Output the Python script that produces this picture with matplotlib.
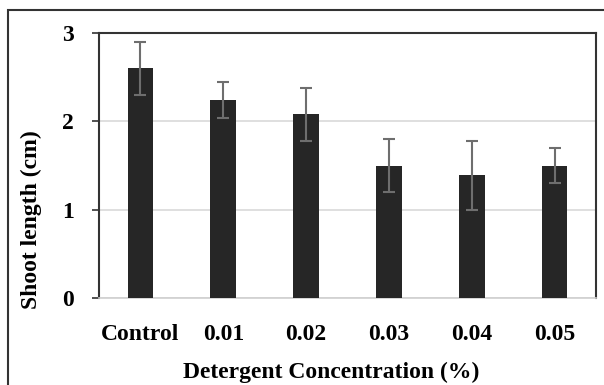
import matplotlib
matplotlib.use("Agg")
import matplotlib.pyplot as plt
from matplotlib.patches import Rectangle

categories = ["Control", "0.01", "0.02", "0.03", "0.04", "0.05"]
shoot_length = [2.60, 2.24, 2.08, 1.50, 1.39, 1.50]
errors = [0.30, 0.20, 0.30, 0.30, 0.39, 0.20]

plt.rcParams["font.family"] = "Liberation Serif"
plt.rcParams["font.weight"] = "bold"

fig = plt.figure(figsize=(6.04, 3.85), dpi=100)
# outer chart frame, cut off at right and bottom like the source image
fig.patches.append(Rectangle((8 / 604, -0.05), 1.0, 1 - 10 / 385 + 0.05,
                             transform=fig.transFigure, fill=False,
                             edgecolor="#333333", linewidth=1.5))

ax = fig.add_axes([99 / 604, 87 / 385, 497 / 604, 265 / 385])
x = range(len(categories))
ax.bar(x, shoot_length, width=0.31, color="#262626", zorder=3,
       yerr=errors, error_kw=dict(ecolor="#6e6e6e", elinewidth=1.5,
                                  capsize=4.5, capthick=1.5, zorder=4))

ax.set_xlim(-0.5, len(categories) - 0.5)
ax.set_ylim(0, 3)
ax.set_yticks([0, 1, 2, 3])
ax.set_xticks(list(x))
ax.set_xticklabels(categories)
ax.yaxis.grid(True, color="#d9d9d9", linewidth=1.2, zorder=0)
ax.tick_params(axis="x", length=0, pad=19, labelsize=17)
ax.tick_params(axis="y", length=5, width=1.2, direction="out", pad=13,
               labelsize=17, color="#333333")
for side in ["top", "right", "left"]:
    ax.spines[side].set_color("#333333")
    ax.spines[side].set_linewidth(1.5)
ax.spines["bottom"].set_color("#d0d0d0")
ax.spines["bottom"].set_linewidth(1.2)

fig.text(331 / 604, 7 / 385, "Detergent Concentration (%)", fontsize=17,
         fontweight="bold", ha="center", va="baseline")
fig.text(31 / 604, 165 / 385, "Shoot length (cm)", fontsize=17,
         fontweight="bold", ha="center", va="center", rotation=90)

fig.savefig("out.png", dpi=100)
